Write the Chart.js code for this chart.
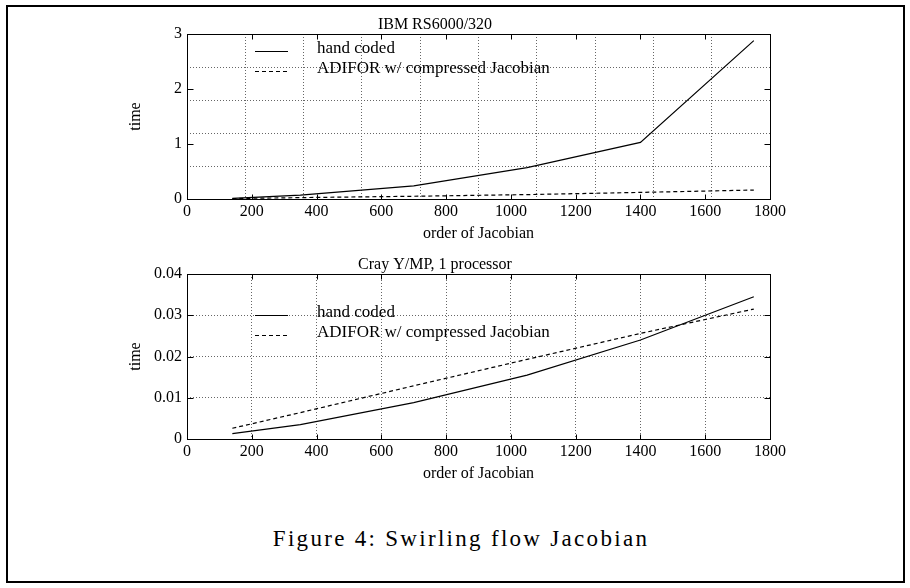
<!DOCTYPE html>
<html>
<head>
<meta charset="utf-8">
<title>Swirling flow Jacobian</title>
<script src="https://cdn.jsdelivr.net/npm/chart.js@4.4.7/dist/chart.umd.min.js"></script>
<style>
  body { margin: 0; background: #fff; }
  #frame { position: absolute; left: 6px; top: 5px; width: 895px; height: 574px; border: 2px solid #000; }
  .plot { position: absolute; left: 100px; }
  #ibmChart { top: 10px; }
  #crayChart { top: 250px; }
  #caption {
    position: absolute; left: 0; width: 922px; top: 526px;
    text-align: center; font: 23px "Liberation Serif", serif; letter-spacing: 2.3px; color: #000;
  }
</style>
</head>
<body>
<div id="frame"></div>
<canvas id="ibmChart" class="plot" width="700" height="235"></canvas>
<canvas id="crayChart" class="plot" width="700" height="235"></canvas>
<div id="caption">Figure 4: Swirling flow Jacobian</div>
<script>
// values
const orders = [140, 350, 700, 1050, 1400, 1750];
const ibmHand = [0.01, 0.07, 0.24, 0.57, 1.03, 2.88];
const ibmAdifor = [0.008, 0.025, 0.05, 0.08, 0.12, 0.163];
const crayHand = [0.0013, 0.0035, 0.0088, 0.0155, 0.024, 0.0345];
const crayAdifor = [0.0026, 0.0064, 0.0129, 0.0193, 0.0256, 0.0315];
const seriesLabels = ["hand coded", "ADIFOR w/ compressed Jacobian"];

const xTicks = [0, 200, 400, 600, 800, 1000, 1200, 1400, 1600, 1800];
const xLabels = ["0", "200", "400", "600", "800", "1000", "1200", "1400", "1600", "1800"];
const ibmYTicks = [0, 1, 2, 3];
const ibmYLabels = ["0", "1", "2", "3"];
const crayYTicks = [0, 0.01, 0.02, 0.03, 0.04];
const crayYLabels = ["0", "0.01", "0.02", "0.03", "0.04"];

const serif = "'Liberation Serif', 'Times New Roman', serif";

// box around the plot, inward tick marks, gnuplot-style key
const framePlugin = {
  id: "frame",
  afterDatasetsDraw(chart, args, opts) {
    const { ctx, chartArea, scales } = chart;
    const left = Math.round(chartArea.left) + 0.5;
    const right = Math.round(chartArea.right) + 0.5;
    const top = Math.round(chartArea.top) + 0.5;
    const bottom = Math.round(chartArea.bottom) + 0.5;
    ctx.save();
    ctx.strokeStyle = "#000";
    ctx.lineWidth = 1;
    ctx.strokeRect(left, top, right - left, bottom - top);

    ctx.beginPath();
    scales.x.ticks.forEach((tick) => {
      const px = Math.round(scales.x.getPixelForValue(tick.value)) + 0.5;
      ctx.moveTo(px, bottom);
      ctx.lineTo(px, bottom - 5);
      ctx.moveTo(px, top);
      ctx.lineTo(px, top + 5);
    });
    scales.y.ticks.forEach((tick) => {
      const py = Math.round(scales.y.getPixelForValue(tick.value)) + 0.5;
      ctx.moveTo(left, py);
      ctx.lineTo(left + 6, py);
      ctx.moveTo(right, py);
      ctx.lineTo(right - 6, py);
    });
    ctx.stroke();

    ctx.font = "17px " + serif;
    ctx.fillStyle = "#000";
    ctx.textBaseline = "alphabetic";
    chart.data.datasets.forEach((dataset, index) => {
      const y = Math.round(chartArea.top + opts.keyTop + index * 20) + 0.5;
      ctx.setLineDash(dataset.borderDash || []);
      ctx.lineWidth = dataset.borderWidth;
      ctx.beginPath();
      ctx.moveTo(chartArea.left + 68, y);
      ctx.lineTo(chartArea.left + 101, y);
      ctx.stroke();
      ctx.setLineDash([]);
      ctx.fillText(dataset.label, chartArea.left + 130, y + 1);
    });
    ctx.restore();
  },
};

function toPoints(values) {
  return orders.map((x, index) => ({ x, y: values[index] }));
}

function makeChart(canvasId, cfg) {
  const tickFont = { family: serif, size: 16 };
  return new Chart(document.getElementById(canvasId), {
    type: "line",
    data: {
      datasets: [
        {
          label: seriesLabels[0],
          data: toPoints(cfg.hand),
          borderColor: "#000",
          borderWidth: 1.2,
          pointRadius: 0,
          tension: 0,
          xAxisID: "x",
          yAxisID: "y",
        },
        {
          label: seriesLabels[1],
          data: toPoints(cfg.adifor),
          borderColor: "#000",
          borderWidth: 1.2,
          borderDash: [4, 3],
          pointRadius: 0,
          tension: 0,
          xAxisID: "x",
          yAxisID: "y",
        },
      ],
    },
    options: {
      responsive: false,
      animation: false,
      devicePixelRatio: 1,
      layout: { padding: { left: 0, right: 30, top: 0, bottom: 0 } },
      plugins: {
        legend: { display: false },
        tooltip: { enabled: false },
        title: {
          display: true,
          text: cfg.title,
          color: "#000",
          font: { family: serif, size: 16, weight: "normal", lineHeight: 1 },
          padding: { top: 7, bottom: 1 },
        },
        frame: { keyTop: cfg.keyTop },
      },
      scales: {
        x: {
          type: "linear",
          axis: "x",
          position: "bottom",
          min: 0,
          max: 1800,
          afterBuildTicks: (scale) => {
            scale.ticks = xTicks.map((value) => ({ value }));
          },
          afterFit: (scale) => {
            scale.height = 46;
          },
          grid: { display: false, drawTicks: false },
          border: { display: false },
          ticks: {
            color: "#000",
            font: tickFont,
            padding: 3,
            maxRotation: 0,
            autoSkip: false,
            callback: (value, index) => xLabels[index],
          },
          title: {
            display: true,
            text: "order of Jacobian",
            color: "#000",
            font: tickFont,
            padding: { top: 0, bottom: 2 },
          },
        },
        y: {
          type: "linear",
          axis: "y",
          position: "left",
          min: 0,
          max: cfg.yTicks[cfg.yTicks.length - 1],
          afterBuildTicks: (scale) => {
            scale.ticks = cfg.yTicks.map((value) => ({ value }));
          },
          afterFit: (scale) => {
            scale.width = 87;
          },
          grid: { display: false, drawTicks: false },
          border: { display: false },
          ticks: {
            color: "#000",
            font: tickFont,
            padding: 5,
            autoSkip: false,
            callback: (value, index) => cfg.yLabels[index],
          },
          title: {
            display: true,
            text: "time",
            color: "#000",
            font: tickFont,
            padding: { top: 26, bottom: 0 },
          },
        },
        xg: {
          type: "linear",
          axis: "x",
          position: "bottom",
          min: 0,
          max: 1800,
          afterFit: (scale) => {
            scale.height = 0;
          },
          ticks: { display: false, stepSize: cfg.xGridStep },
          grid: { color: "#666", lineWidth: 1, drawTicks: false },
          border: { display: false, dash: [1, 2] },
        },
        yg: {
          type: "linear",
          axis: "y",
          position: "left",
          min: 0,
          max: cfg.yTicks[cfg.yTicks.length - 1],
          afterFit: (scale) => {
            scale.width = 0;
          },
          ticks: { display: false, stepSize: cfg.yGridStep },
          grid: { color: "#666", lineWidth: 1, drawTicks: false },
          border: { display: false, dash: [1, 2] },
        },
      },
    },
    plugins: [framePlugin],
  });
}

makeChart("ibmChart", {
  title: "IBM RS6000/320",
  hand: ibmHand,
  adifor: ibmAdifor,
  yTicks: ibmYTicks,
  yLabels: ibmYLabels,
  xGridStep: 180,
  yGridStep: 0.6,
  keyTop: 17,
});

makeChart("crayChart", {
  title: "Cray Y/MP, 1 processor",
  hand: crayHand,
  adifor: crayAdifor,
  yTicks: crayYTicks,
  yLabels: crayYLabels,
  xGridStep: 200,
  yGridStep: 0.01,
  keyTop: 41,
});
</script>
</body>
</html>
